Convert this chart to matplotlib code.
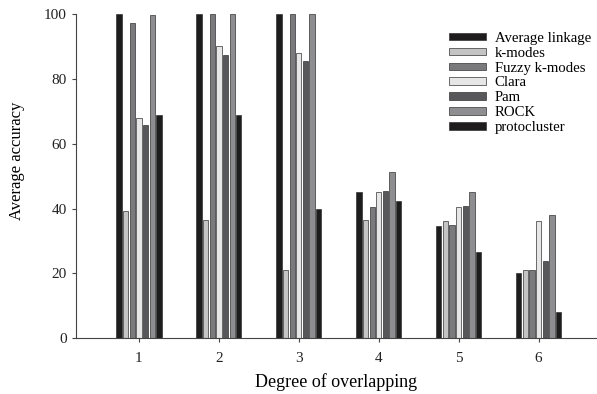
import numpy as np
import matplotlib.pyplot as plt

plt.rcParams['font.family'] = ['Liberation Serif', 'DejaVu Serif']

overlap = [1, 2, 3, 4, 5, 6]
methods = ['Average linkage', 'k-modes', 'Fuzzy k-modes', 'Clara', 'Pam', 'ROCK', 'protocluster']

avg_linkage = [100, 100, 100, 45.2, 34.5, 20.0]
k_modes = [39.3, 36.5, 21.0, 36.6, 36.0, 21.0]
fuzzy_k_modes = [97.3, 100, 100, 40.6, 35.0, 21.0]
clara = [68.0, 90.2, 88.0, 45.1, 40.5, 36.2]
pam = [65.8, 87.4, 85.6, 45.4, 40.9, 23.8]
rock = [99.6, 100, 100, 51.4, 45.1, 38.0]
protocluster = [68.9, 68.9, 40.0, 42.4, 26.6, 8.0]

series = [avg_linkage, k_modes, fuzzy_k_modes, clara, pam, rock, protocluster]
colors = ['#1e1c1d', '#c4c4c4', '#7a7a7c', '#e6e6e6', '#58585a', '#8e8e90', '#1e1c1d']

fig = plt.figure(figsize=(5.97, 3.94), dpi=100)
ax = fig.add_axes([0.127, 0.142, 0.873, 0.822])

x = np.array(overlap, dtype=float)
pitch = 0.083
width = 0.066
for i, (vals, name, c) in enumerate(zip(series, methods, colors)):
    offs = (i - 3) * pitch
    ax.bar(x + offs, vals, width=width, color=c, edgecolor='#333333',
           linewidth=0.5, label=name)

ax.set_xlim(0.21, 6.73)
ax.set_ylim(0, 100)
ax.set_xticks(overlap)
ax.set_yticks([0, 20, 40, 60, 80, 100])
ax.spines['top'].set_visible(False)
ax.spines['right'].set_visible(False)
ax.spines['left'].set_color('#444444')
ax.spines['bottom'].set_color('#444444')
ax.tick_params(direction='out', length=3, width=0.8, colors='#444444',
               labelcolor='#222222', labelsize=11)
ax.tick_params(axis='x', pad=7)
ax.set_xlabel('Degree of overlapping', fontsize=13, labelpad=6)
ax.set_ylabel('Average accuracy', fontsize=12)
ax.yaxis.set_label_coords(-0.098, 0.546)

ax.legend(loc='upper left', bbox_to_anchor=(0.716, 0.946), frameon=False,
          fontsize=10.6, handlelength=2.5, handleheight=0.4,
          labelspacing=0.13, handletextpad=0.6, borderaxespad=0,
          borderpad=0)

fig.savefig('out.png', dpi=100)
